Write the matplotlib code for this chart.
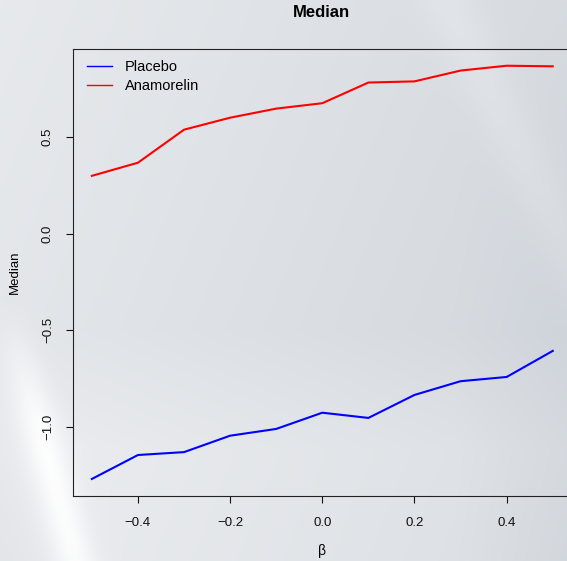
import numpy as np
import matplotlib
matplotlib.use("Agg")
import matplotlib.pyplot as plt

# median response per beta value
beta = [-0.5, -0.4, -0.3, -0.2, -0.1, 0.0, 0.1, 0.2, 0.3, 0.4, 0.5]
placebo = [-1.269, -1.145, -1.130, -1.045, -1.010, -0.926, -0.953, -0.834, -0.763, -0.741, -0.606]
anamorelin = [0.300, 0.368, 0.539, 0.601, 0.648, 0.676, 0.783, 0.789, 0.845, 0.870, 0.867]
series_names = ["Placebo", "Anamorelin"]
xticks = [-0.4, -0.2, 0.0, 0.2, 0.4]
yticks = [-1.0, -0.5, 0.0, 0.5]

plt.rcParams['font.family'] = ['Liberation Sans', 'DejaVu Sans']

W, H = 567, 561
fig = plt.figure(figsize=(W / 100, H / 100), dpi=100)

# soft grey backdrop with a couple of light diagonal streaks (pixel grid)
bg = fig.add_axes([0, 0, 1, 1], zorder=-1)
yy, xx = np.mgrid[0:H, 0:W].astype(float)
u = xx / W
v = yy / H
lum = 0.905 - 0.05 * u + 0.02 * (1 - v) - 0.03 * np.clip(u - 0.8, 0, 1) * v * 4
# bright band in the lower left corner
d1 = xx - (30 + 0.27 * (yy - 393))
lum += 0.06 * np.exp(-(d1 / 20) ** 2) * np.clip((yy - 300) / 120, 0, 1)
lum += 0.03 * np.exp(-(np.clip(d1, None, 0) / 60) ** 2) * np.clip((yy - 330) / 120, 0, 1)
# faint band on the right
d2 = (xx - 520) - 0.5 * (yy - 150)
lum += 0.02 * np.exp(-(d2 / 30) ** 2)
lum = np.clip(lum, 0, 1)
tint = np.clip(1 - lum, 0, 1) / 0.1
img = np.dstack([lum - 0.025 * tint, lum - 0.012 * tint, lum + 0.004 * tint])
bg.imshow(np.clip(img, 0, 1), aspect='auto', extent=[0, 1, 0, 1])
bg.axis('off')

ax = fig.add_axes([73.4 / W, 1 - 495.7 / H, (571.2 - 73.4) / W, (495.7 - 49) / H])
ax.set_facecolor('none')
ax.plot(beta, placebo, color='#0000ff', lw=1.5, label=series_names[0])
ax.plot(beta, anamorelin, color='#ff0000', lw=1.5, label=series_names[1])

ax.set_xlim(-0.54, 0.54)
ax.set_ylim(-1.3556, 0.9566)
ax.set_xticks(xticks)
ax.set_xticklabels(["\u22120.4", "\u22120.2", "0.0", "0.2", "0.4"])
ax.set_yticks(yticks)
ax.set_yticklabels(["\u22121.0", "\u22120.5", "0.0", "0.5"], rotation=90, va='center')
ax.tick_params(axis='x', length=5, width=0.8, pad=10, labelsize=9.5, colors='#111111')
ax.tick_params(axis='y', length=5, width=0.8, pad=9, labelsize=9.5, colors='#111111')
for s in ax.spines.values():
    s.set_linewidth(0.8)
    s.set_color('#222222')

fig.text(321.5 / W, 1 - 12.5 / H, "Median", ha='center', va='center', fontsize=12, fontweight='bold')
fig.text(15 / W, 1 - 272 / H, "Median", ha='center', va='center', rotation=90, fontsize=9.5)
fig.text(322.3 / W, 1 - 551 / H, "\u03b2", ha='center', va='center', fontsize=10)

leg = ax.legend(loc='upper left', bbox_to_anchor=(86.7 / W, 1 - 60 / H),
                bbox_transform=fig.transFigure, frameon=False, fontsize=10.5,
                borderpad=0, borderaxespad=0, handlelength=1.75,
                handletextpad=0.85, labelspacing=0.32)
for line in leg.get_lines():
    line.set_linewidth(1.0)

fig.savefig("out.png", dpi=100)
